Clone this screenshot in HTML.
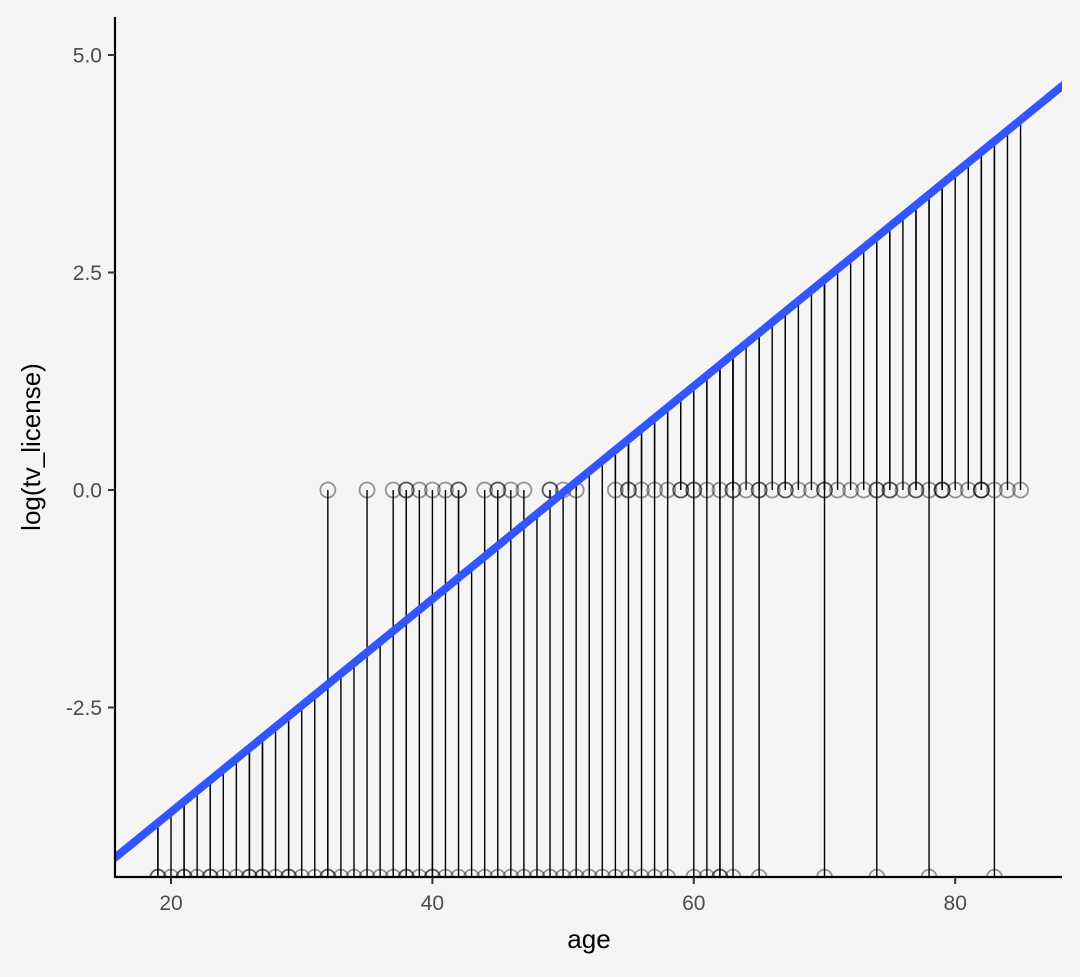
<!DOCTYPE html>
<html><head><meta charset="utf-8"><style>
body{margin:0;background:#f5f5f5}
svg text{font-family:"Liberation Sans",sans-serif}
</style></head><body>
<svg id="c" width="1080" height="972" xmlns="http://www.w3.org/2000/svg">
<rect width="1080" height="972" fill="#f5f5f5"/>
<defs><clipPath id="pc"><rect x="115" y="17" width="947" height="860"/></clipPath></defs>
<g id="marks" clip-path="url(#pc)"></g>
<g id="axes"></g>
</svg>
<script>
const bottomAges=[19,19,20,21,21,22,23,23,24,25,26,26,27,27,28,29,29,30,31,32,32,33,34,35,36,37,38,38,39,40,40,41,42,43,44,45,46,47,48,49,50,51,52,53,54,55,56,57,58,60,61,62,62,63,65,70,74,78,83];
const zeroAges=[32,35,37,38,38,39,40,41,42,42,44,45,45,46,47,49,49,50,51,54,55,55,56,57,58,59,59,60,60,61,62,63,63,64,65,65,66,67,67,68,69,70,70,71,72,73,74,74,75,75,76,77,77,78,79,79,79,80,81,82,82,82,83,84,85];
const bottomValue=-4.45, zeroValue=0;
const fitIntercept=-6.15, fitSlope=0.1224;
const xTicks=[20,40,60,80];
const yTicks=[-2.5,0,2.5,5];
const yTickLabels=["-2.5","0.0","2.5","5.0"];
const NS="http://www.w3.org/2000/svg";
const X=a=>171+(a-20)*13.07, Y=v=>490-v*87;
const marks=document.getElementById('marks'), axes=document.getElementById('axes');
function el(t,at,p){const e=document.createElementNS(NS,t);for(const k in at)e.setAttribute(k,at[k]);p.appendChild(e);return e;}
const pts=bottomAges.map(a=>[a,bottomValue]).concat(zeroAges.map(a=>[a,zeroValue]));
pts.forEach(([a,v])=>{const s=el('line',{x1:X(a),x2:X(a),y1:Y(v),y2:Y(fitIntercept+fitSlope*a),stroke:'#000','stroke-width':1.4},marks);

});
pts.forEach(([a,v])=>{const c=el('circle',{cx:X(a),cy:Y(v),r:7.5,fill:'none',stroke:'#000','stroke-opacity':0.4,'stroke-width':1.8},marks);

});
const fl=el('line',{x1:X(10),y1:Y(fitIntercept+fitSlope*10),x2:X(95),y2:Y(fitIntercept+fitSlope*95),stroke:'#3355ff','stroke-width':8},marks);


const ya=el('line',{x1:115,y1:17,x2:115,y2:878,stroke:'#000','stroke-width':2.2},axes);


const xa=el('line',{x1:114,y1:877,x2:1062,y2:877,stroke:'#000','stroke-width':2.2},axes);


xTicks.forEach(t=>{el('line',{x1:X(t),x2:X(t),y1:877,y2:884,stroke:'#333','stroke-width':2},axes);
const tx=el('text',{x:X(t),y:910,'text-anchor':'middle','font-size':21,fill:'#4d4d4d'},axes);tx.textContent=t;

});
yTicks.forEach((t,i)=>{el('line',{x1:108,x2:115,y1:Y(t),y2:Y(t),stroke:'#333','stroke-width':2},axes);
const tx=el('text',{x:102,y:Y(t)+7.5,'text-anchor':'end','font-size':21,fill:'#4d4d4d'},axes);tx.textContent=yTickLabels[i];

});
const xt=el('text',{x:589,y:948,'text-anchor':'middle','font-size':26,fill:'#000'},axes);xt.textContent='age';


const yt=el('text',{x:0,y:0,transform:'translate(40,447) rotate(-90)','text-anchor':'middle','font-size':26,fill:'#000'},axes);yt.textContent='log(tv_license)';


</script>
</body></html>
